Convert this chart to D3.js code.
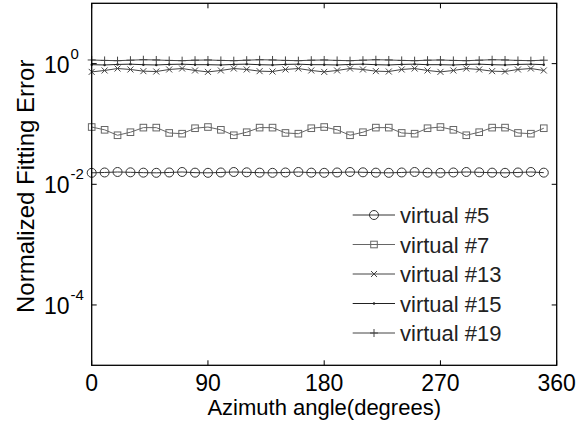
<!DOCTYPE html>
<html>
<head>
<meta charset="utf-8">
<script src="https://cdn.jsdelivr.net/npm/d3@7"></script>
<style>
    body { margin:0; background:#fff; }
    text { font-family: Arial, "Liberation Sans", sans-serif; }
</style>
</head>
<body>
<svg id="chart" width="587" height="423"></svg>
<script>
// azimuth angles, 0..350 step 10
var angles = [0,10,20,30,40,50,60,70,80,90,100,110,120,130,140,150,160,170,
              180,190,200,210,220,230,240,250,260,270,280,290,300,310,320,330,340,350];

var v5 = [0.0155,0.0157,0.0160,0.0158,0.0156,0.0155,0.0157,0.0160,0.0156,
          0.0155,0.0157,0.0160,0.0158,0.0156,0.0155,0.0157,0.0160,0.0156,
          0.0155,0.0157,0.0160,0.0158,0.0156,0.0155,0.0157,0.0160,0.0156,
          0.0155,0.0157,0.0160,0.0158,0.0156,0.0155,0.0157,0.0160,0.0156];

var v7 = [0.089,0.080,0.065,0.073,0.087,0.087,0.071,0.069,0.085,
          0.089,0.080,0.065,0.073,0.087,0.087,0.071,0.069,0.085,
          0.089,0.080,0.065,0.073,0.087,0.087,0.071,0.069,0.085,
          0.089,0.080,0.065,0.073,0.087,0.087,0.071,0.069,0.085];

var v13 = [0.73,0.77,0.83,0.80,0.75,0.74,0.80,0.83,0.77,
           0.73,0.77,0.83,0.80,0.75,0.74,0.80,0.83,0.77,
           0.73,0.77,0.83,0.80,0.75,0.74,0.80,0.83,0.77,
           0.73,0.77,0.83,0.80,0.75,0.74,0.80,0.83,0.77];

var v15 = [0.96,0.95,0.97,0.98,0.96,0.95,0.97,0.98,0.96,
           0.96,0.95,0.97,0.98,0.96,0.95,0.97,0.98,0.96,
           0.96,0.95,0.97,0.98,0.96,0.95,0.97,0.98,0.96,
           0.96,0.95,0.97,0.98,0.96,0.95,0.97,0.98,0.96];

var v19 = [1.15,1.13,1.12,1.14,1.16,1.15,1.13,1.12,1.14,
           1.15,1.13,1.12,1.14,1.16,1.15,1.13,1.12,1.14,
           1.15,1.13,1.12,1.14,1.16,1.15,1.13,1.12,1.14,
           1.15,1.13,1.12,1.14,1.16,1.15,1.13,1.12,1.14];

var seriesNames = ["virtual #5","virtual #7","virtual #13","virtual #15","virtual #19"];
var seriesValues = [v5, v7, v13, v15, v19];
var seriesMarkers = ["circle","square","cross","dot","plus"];
var seriesColors = ["#333","#666","#444","#222","#444"];

var xTicks = [0,90,180,270,360];
var yTicks = [1e0,1e-2,1e-4];
var yExponents = ["0","-2","-4"];

// plot box (note: "top" is a reserved window prop, so prefix everything)
var pLeft = 91.7, pRight = 556.7, pTop = 3.3, pBottom = 365.3;

var svg = d3.select("#chart");

var x = d3.scaleLinear().domain([0,360]).range([pLeft,pRight]);
var y = d3.scaleLog().domain([1e-5,10]).range([pBottom,pTop]);

function drawMarker( g, kind, cx, cy, color ){
    switch( kind ){
        case "circle":
            g.append("circle").attr("cx",cx).attr("cy",cy).attr("r",4.5)
                .attr("fill","none").attr("stroke",color).attr("stroke-width",1);
            break;
        case "square":
            g.append("rect").attr("x",cx-3.3).attr("y",cy-3.3)
                .attr("width",6.6).attr("height",6.6)
                .attr("fill","none").attr("stroke",color).attr("stroke-width",1);
            break;
        case "cross":
            g.append("path")
                .attr("d","M"+(cx-3)+","+(cy-3)+"L"+(cx+3)+","+(cy+3)+"M"+(cx-3)+","+(cy+3)+"L"+(cx+3)+","+(cy-3))
                .attr("stroke",color).attr("stroke-width",1);
            break;
        case "dot":
            g.append("circle").attr("cx",cx).attr("cy",cy).attr("r",1.2)
                .attr("fill",color);
            break;
        case "plus":
            g.append("path")
                .attr("d","M"+(cx-4)+","+cy+"L"+(cx+4)+","+cy+"M"+cx+","+(cy-4)+"L"+cx+","+(cy+4))
                .attr("stroke",color).attr("stroke-width",1);
            break;
    }
}

var line = d3.line()
    .x(function(d){ return x(d[0]); })
    .y(function(d){ return y(d[1]); });

var plot = svg.append("g");

seriesValues.forEach(function(vals, i){
    var pts = angles.map(function(a, j){ return [a, vals[j]]; });
    plot.append("path")
        .datum(pts)
        .attr("d", line)
        .attr("fill","none")
        .attr("stroke", seriesColors[i])
        .attr("stroke-width", 1);
    var mg = plot.append("g");
    pts.forEach(function(p){
        drawMarker(mg, seriesMarkers[i], x(p[0]), y(p[1]), seriesColors[i]);
    });
});

// frame
svg.append("rect")
    .attr("x",pLeft).attr("y",pTop)
    .attr("width",pRight-pLeft).attr("height",pBottom-pTop)
    .attr("fill","none").attr("stroke","#000").attr("stroke-width",1.3);

// inward ticks on all four sides
var tickLen = 5;
var tg = svg.append("g").attr("stroke","#000").attr("stroke-width",1);
xTicks.forEach(function(t){
    tg.append("line").attr("x1",x(t)).attr("x2",x(t)).attr("y1",pBottom).attr("y2",pBottom-tickLen);
    tg.append("line").attr("x1",x(t)).attr("x2",x(t)).attr("y1",pTop).attr("y2",pTop+tickLen);
});
yTicks.forEach(function(t){
    tg.append("line").attr("x1",pLeft).attr("x2",pLeft+tickLen).attr("y1",y(t)).attr("y2",y(t));
    tg.append("line").attr("x1",pRight).attr("x2",pRight-tickLen).attr("y1",y(t)).attr("y2",y(t));
});

// tick labels
svg.append("g").selectAll("text")
    .data(xTicks)
    .enter().append("text")
        .attr("x", function(d){ return x(d); })
        .attr("y", 391)
        .attr("text-anchor","middle")
        .attr("font-size",23)
        .attr("fill","#000")
        .text(function(d){ return d; });

var yl = svg.append("g").selectAll("text")
    .data(yTicks)
    .enter().append("text")
        .attr("x", 44)
        .attr("y", function(d){ return y(d) + 9; })
        .attr("font-size",23)
        .attr("fill","#000");
yl.append("tspan").text("10");
yl.append("tspan")
    .attr("dx",1)
    .attr("dy",-14)
    .attr("font-size",15)
    .text(function(d,i){ return yExponents[i]; });

// axis titles
svg.append("text")
    .attr("x",(pLeft+pRight)/2)
    .attr("y",415)
    .attr("text-anchor","middle")
    .attr("font-size",22)
    .text("Azimuth angle(degrees)");

svg.append("text")
    .attr("transform","translate(34,"+((pTop+pBottom)/2 + 2)+") rotate(-90)")
    .attr("text-anchor","middle")
    .attr("font-size",24)
    .text("Normalized Fitting Error");

// legend
var legRows = [215,244.5,274,303.5,333];
var lg = svg.append("g");
seriesNames.forEach(function(name, i){
    var ly = legRows[i];
    lg.append("line").attr("x1",352.7).attr("x2",395).attr("y1",ly).attr("y2",ly)
        .attr("stroke",seriesColors[i]).attr("stroke-width",1);
    drawMarker(lg, seriesMarkers[i], 374, ly, seriesColors[i]);
    lg.append("text")
        .attr("x",400).attr("y",ly+8)
        .attr("font-size",22)
        .attr("fill","#222")
        .text(name);
});
</script>
</body>
</html>
